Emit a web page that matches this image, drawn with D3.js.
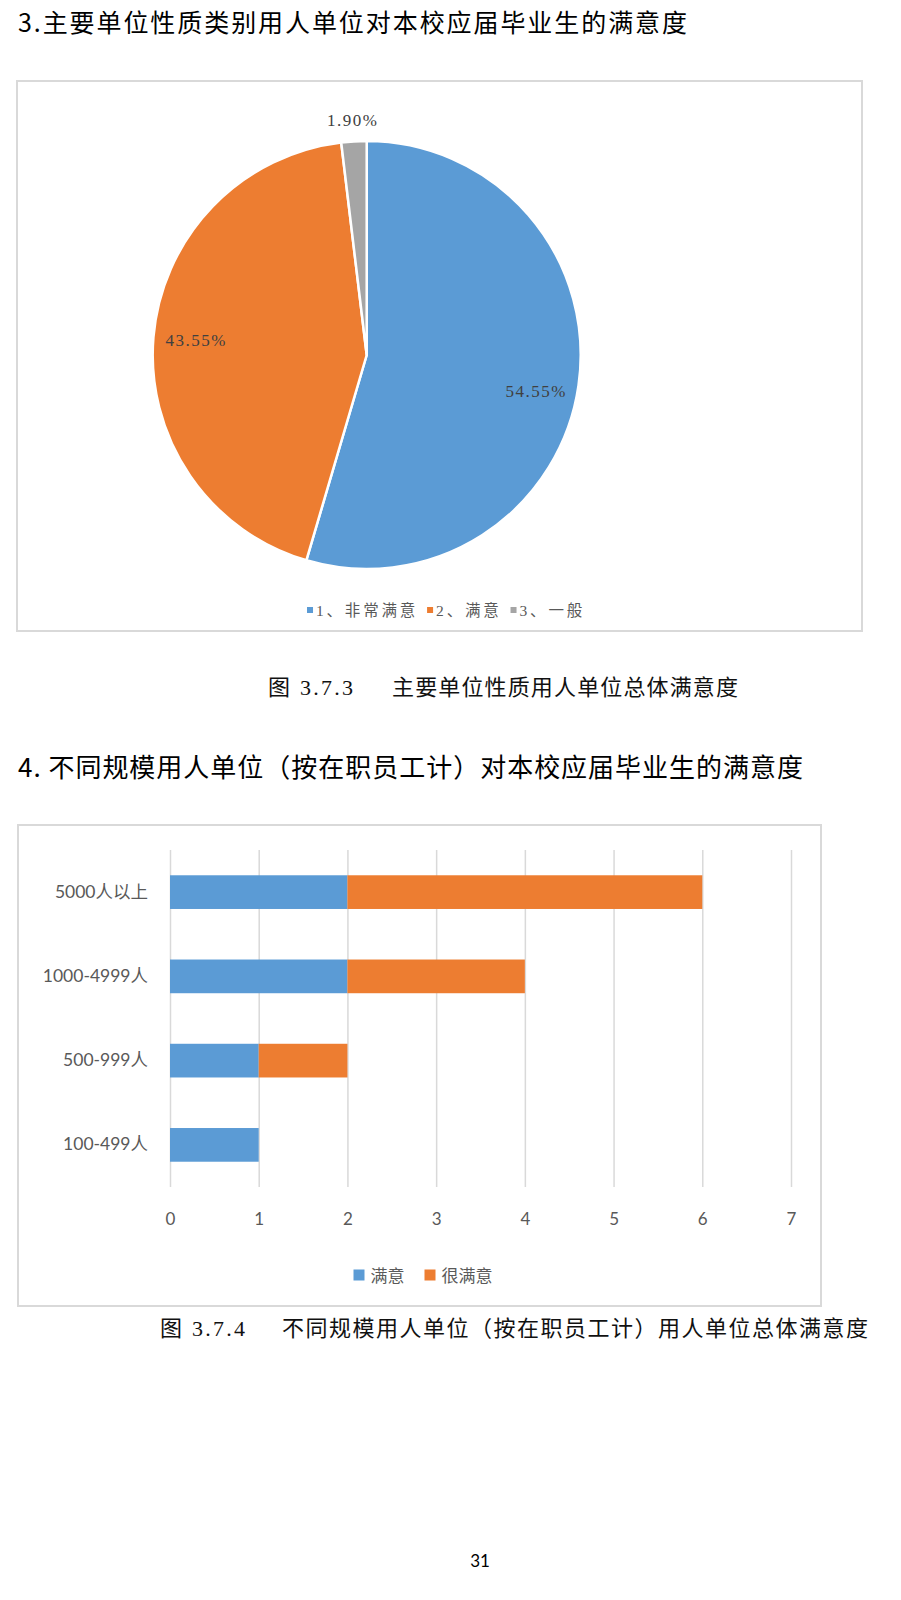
<!DOCTYPE html>
<html>
<head>
<meta charset="utf-8">
<script src="https://cdn.jsdelivr.net/npm/d3@7/dist/d3.min.js"></script>
<style>
  html, body { margin: 0; padding: 0; background: #fff; }
  svg { display: block; }
</style>
</head>
<body>
<svg id="page" width="901" height="1600"></svg>
<script>
// ---------- data ----------
const pieLabels = ["1、非常满意", "2、满意", "3、一般"];
const pieValues = [54.55, 43.55, 1.90];
const pieColors = ["#5B9BD5", "#ED7D31", "#A5A5A5"];

const barCategories = ["5000人以上", "1000-4999人", "500-999人", "100-499人"];
const barSeriesNames = ["满意", "很满意"];
const barSatisfied = [2, 2, 1, 1];
const barVerySatisfied = [4, 2, 1, 0];
const barColors = ["#5B9BD5", "#ED7D31"];
const xTicks = [0, 1, 2, 3, 4, 5, 6, 7];

const title1 = "3.主要单位性质类别用人单位对本校应届毕业生的满意度";
const title2 = "4. 不同规模用人单位（按在职员工计）对本校应届毕业生的满意度";
const cap1Num = "图 3.7.3";
const cap1Text = "主要单位性质用人单位总体满意度";
const cap2Num = "图 3.7.4";
const cap2Text = "不同规模用人单位（按在职员工计）用人单位总体满意度";
const pageNo = "31";

// ---------- drawing ----------
const svg = d3.select("#page");
const CJK = "'Noto Sans CJK SC', sans-serif";
const SERIF = "'Liberation Serif', 'Noto Sans CJK SC', serif";
const SANS = "Lato, 'Noto Sans CJK SC', sans-serif";

svg.append("rect").attr("width", 901).attr("height", 1600).attr("fill", "#fff");

// Titles
svg.append("text").attr("x", 18).attr("y", 21)
  .attr("dominant-baseline", "central")
  .attr("font-family", CJK).attr("font-size", 25).attr("fill", "#000")
  .attr("textLength", 669).attr("lengthAdjust", "spacing")
  .text(title1);

svg.append("text").attr("x", 18).attr("y", 765)
  .attr("dominant-baseline", "central")
  .attr("font-family", CJK).attr("font-size", 26).attr("fill", "#000")
  .attr("textLength", 785).attr("lengthAdjust", "spacing")
  .text(title2);

// ---------- Pie chart ----------
svg.append("rect").attr("x", 17).attr("y", 81).attr("width", 845).attr("height", 550)
  .attr("fill", "#fff").attr("stroke", "#D9D9D9").attr("stroke-width", 2);

const cx = 366.7, cy = 355, R = 214;
const pie = d3.pie().sort(null).value(d => d);
const arcs = pie(pieValues);
const arc = d3.arc().innerRadius(0).outerRadius(R);
const gPie = svg.append("g").attr("transform", `translate(${cx},${cy})`);
gPie.selectAll("path").data(arcs).join("path")
  .attr("d", arc)
  .attr("fill", (d, i) => pieColors[i])
  .attr("stroke", "#fff").attr("stroke-width", 2.5).attr("stroke-linejoin", "round");

const inArc = d3.arc().innerRadius(R * 0.8).outerRadius(R * 0.8);
const outArc = d3.arc().innerRadius(R * 1.1).outerRadius(R * 1.1);
gPie.selectAll("text.lbl").data(arcs).join("text")
  .attr("class", "lbl")
  .attr("transform", (d, i) => {
    const c = (d.endAngle - d.startAngle) < 0.3 ? outArc.centroid(d) : inArc.centroid(d);
    const extraY = i === 0 ? 12 : 0;
    return `translate(${c[0]},${c[1] + extraY})`;
  })
  .attr("text-anchor", "middle").attr("dominant-baseline", "central")
  .attr("font-family", SERIF).attr("font-size", 17).attr("letter-spacing", 1.5)
  .attr("fill", "#404040")
  .text(d => d.value.toFixed(2) + "%");

// Pie legend
const pl = svg.append("g").attr("transform", "translate(0,610)");
let px = 0;
const plItems = pl.selectAll("g").data(pieLabels).join("g");
plItems.append("rect").attr("x", 0).attr("y", -3).attr("width", 6).attr("height", 6)
  .attr("fill", (d, i) => pieColors[i]);
plItems.append("text").attr("x", 9).attr("y", 0).attr("dominant-baseline", "central")
  .attr("font-family", SERIF).attr("font-size", 15.5).attr("letter-spacing", 2.8)
  .attr("fill", "#595959").text(d => d);
plItems.each(function () {
  const w = d3.select(this).select("text").node().getComputedTextLength();
  d3.select(this).attr("transform", `translate(${px},0)`);
  px += 9 + w + 9;
});
pl.attr("transform", `translate(${446 - (px - 9) / 2},610)`);

// Caption 1
svg.append("text").attr("x", 268).attr("y", 687).attr("dominant-baseline", "central")
  .attr("font-family", SERIF).attr("font-size", 22).attr("fill", "#111")
  .attr("textLength", 85).attr("lengthAdjust", "spacing").text(cap1Num);
svg.append("text").attr("x", 392).attr("y", 687).attr("dominant-baseline", "central")
  .attr("font-family", SERIF).attr("font-size", 22).attr("fill", "#111")
  .attr("textLength", 346).attr("lengthAdjust", "spacing").text(cap1Text);

// ---------- Bar chart ----------
svg.append("rect").attr("x", 18).attr("y", 825).attr("width", 803).attr("height", 481)
  .attr("fill", "#fff").attr("stroke", "#D9D9D9").attr("stroke-width", 2);

const x = d3.scaleLinear().domain([0, 7]).range([170, 791]);
const y = d3.scaleBand().domain(barCategories).range([850, 1187])
  .paddingInner(0.6).paddingOuter(0.3);

// grid + x tick labels
const xAxis = svg.append("g").attr("transform", "translate(0,1187)")
  .call(d3.axisBottom(x).tickValues(xTicks).tickFormat(d3.format("d"))
    .tickSize(-(1187 - 850)).tickPadding(26));
xAxis.select(".domain").remove();
xAxis.selectAll(".tick line").attr("stroke", "#D9D9D9").attr("stroke-width", 1.5);
xAxis.selectAll(".tick text").attr("font-family", SANS).attr("font-size", 17)
  .attr("fill", "#595959");

// stacked bars
const stackData = barCategories.map((c, i) => ({ cat: c, s0: barSatisfied[i], s1: barVerySatisfied[i] }));
const stack = d3.stack().keys(["s0", "s1"]);
const series = stack(stackData);
svg.append("g").selectAll("g").data(series).join("g")
  .attr("fill", (d, i) => barColors[i])
  .selectAll("rect").data(d => d).join("rect")
  .attr("x", d => x(d[0]))
  .attr("y", d => y(d.data.cat))
  .attr("width", d => x(d[1]) - x(d[0]))
  .attr("height", y.bandwidth());

// y labels
const yAxis = svg.append("g").attr("transform", "translate(170,0)")
  .call(d3.axisLeft(y).tickSize(0).tickPadding(22));
yAxis.select(".domain").remove();
yAxis.selectAll(".tick text").attr("font-family", SANS).attr("font-size", 17.5)
  .attr("fill", "#595959");

// bar legend
const bl = svg.append("g");
let bx = 0;
const blItems = bl.selectAll("g").data(barSeriesNames).join("g");
blItems.append("rect").attr("x", 0).attr("y", -5.5).attr("width", 11).attr("height", 11)
  .attr("fill", (d, i) => barColors[i]);
blItems.append("text").attr("x", 17).attr("y", 0).attr("dominant-baseline", "central")
  .attr("font-family", SANS).attr("font-size", 17).attr("fill", "#595959").text(d => d);
blItems.each(function () {
  const w = d3.select(this).select("text").node().getComputedTextLength();
  d3.select(this).attr("transform", `translate(${bx},0)`);
  bx += 17 + w + 20;
});
bl.attr("transform", `translate(${423 - (bx - 20) / 2},1275)`);

// Caption 2
svg.append("text").attr("x", 160).attr("y", 1328).attr("dominant-baseline", "central")
  .attr("font-family", SERIF).attr("font-size", 22).attr("fill", "#111")
  .attr("textLength", 85).attr("lengthAdjust", "spacing").text(cap2Num);
svg.append("text").attr("x", 282).attr("y", 1328).attr("dominant-baseline", "central")
  .attr("font-family", SERIF).attr("font-size", 22).attr("fill", "#111")
  .attr("textLength", 586).attr("lengthAdjust", "spacing").text(cap2Text);

// page number
svg.append("text").attr("x", 480).attr("y", 1560).attr("text-anchor", "middle")
  .attr("dominant-baseline", "central")
  .attr("font-family", SANS).attr("font-size", 17).attr("fill", "#000").text(pageNo);
</script>
</body>
</html>
